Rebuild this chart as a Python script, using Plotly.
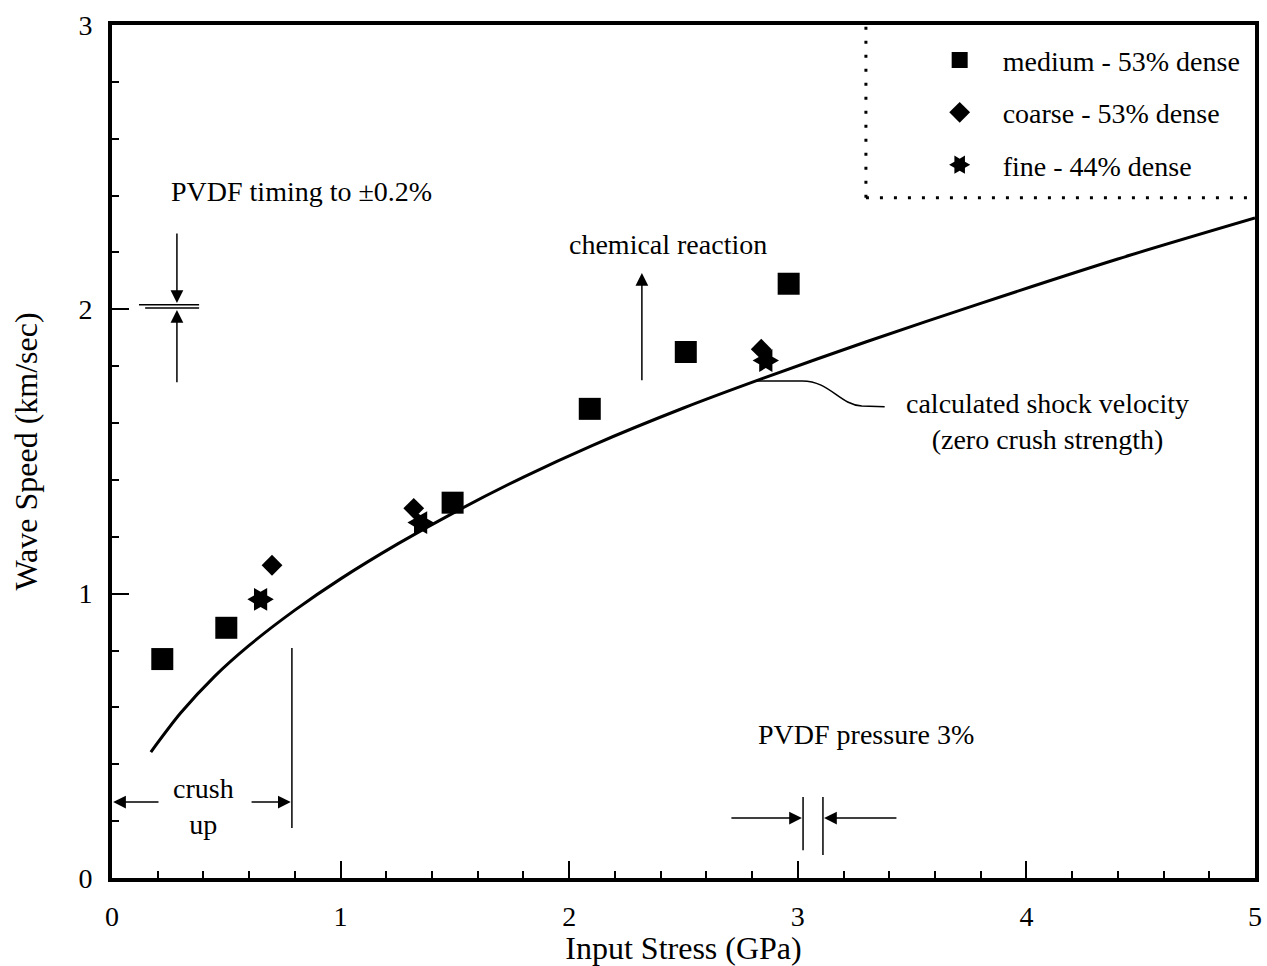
import plotly.graph_objects as go

# ---- data ----
medium_x = [0.22, 0.50, 1.49, 2.09, 2.51, 2.96]
medium_y = [0.77, 0.88, 1.32, 1.65, 1.85, 2.09]
coarse_x = [0.70, 1.32, 2.84]
coarse_y = [1.10, 1.30, 1.86]
fine_x = [0.65, 1.35, 2.86]
fine_y = [0.98, 1.25, 1.82]

curve_x = [0.17, 0.30, 0.45, 0.60, 0.80, 1.00, 1.25, 1.50, 1.80, 2.10, 2.50, 2.85, 3.30, 3.80, 4.40, 5.0]
curve_y = [0.443, 0.58, 0.71, 0.818, 0.942, 1.052, 1.175, 1.287, 1.41, 1.521, 1.653, 1.758, 1.886, 2.021, 2.177, 2.321]

legend_names = ["medium - 53% dense", "coarse - 53% dense", "fine - 44% dense"]
x_ticks = [0, 1, 2, 3, 4, 5]
y_ticks = [0, 1, 2, 3]

FONT = "Liberation Serif"
BLACK = "black"

fig = go.Figure()

fig.add_trace(go.Scatter(x=curve_x, y=curve_y, mode="lines", line=dict(color=BLACK, width=3, shape="spline", smoothing=0.8),
                         showlegend=False, hoverinfo="skip"))
fig.add_trace(go.Scatter(x=medium_x, y=medium_y, mode="markers", name=legend_names[0], legendgroup="a",
                         marker=dict(symbol="square", size=22, color=BLACK)))
fig.add_trace(go.Scatter(x=coarse_x, y=coarse_y, mode="markers", name=legend_names[1], legendgroup="b",
                         marker=dict(symbol="diamond", size=16, color=BLACK)))
fig.add_trace(go.Scatter(x=fine_x, y=fine_y, mode="markers", name=legend_names[2], legendgroup="c",
                         marker=dict(symbol="hexagram", size=20, color=BLACK, angle=90)))

ann_font = dict(family=FONT, size=28, color=BLACK)
annotations = [
    dict(x=0.83, y=2.413, text="PVDF timing to ±0.2%", showarrow=False, font=ann_font),
    dict(x=2.43, y=2.227, text="chemical reaction", showarrow=False, font=ann_font),
    dict(x=0.40, y=0.25, text="crush<br>up", showarrow=False, font=ann_font),
    dict(x=3.30, y=0.503, text="PVDF pressure 3%", showarrow=False, font=ann_font),
    dict(x=4.094, y=1.605, text="calculated shock velocity<br>(zero crush strength)", showarrow=False, font=ann_font),
]
arrow_common = dict(text="", showarrow=True, axref="x", ayref="y", arrowhead=2, arrowsize=1.7,
                    arrowwidth=1.5, arrowcolor=BLACK)
arrows = [
    (0.284, 2.022, 0.284, 2.272),   # timing, down
    (0.284, 1.998, 0.284, 1.738),   # timing, up
    (2.318, 2.128, 2.318, 1.745),   # chemical reaction
    (0.005, 0.267, 0.21, 0.267),    # crush left
    (0.782, 0.267, 0.604, 0.267),   # crush right
    (3.018, 0.211, 2.703, 0.211),   # pressure left
    (3.115, 0.211, 3.438, 0.211),   # pressure right
]
for hx, hy, tx, ty in arrows:
    annotations.append(dict(x=hx, y=hy, ax=tx, ay=ty, **arrow_common))

thin = dict(color=BLACK, width=1.5)
shapes = [
    dict(type="line", x0=0.118, x1=0.381, y0=2.016, y1=2.016, line=thin),
    dict(type="line", x0=0.145, x1=0.381, y0=2.005, y1=2.005, line=thin),
    dict(type="line", x0=0.787, x1=0.787, y0=0.176, y1=0.809, line=thin),
    dict(type="line", x0=3.023, x1=3.023, y0=0.098, y1=0.285, line=thin),
    dict(type="line", x0=3.110, x1=3.110, y0=0.081, y1=0.285, line=thin),
    dict(type="path", path="M 2.813 1.748 L 3.02 1.748 C 3.14 1.748, 3.18 1.665, 3.28 1.66 L 3.38 1.657",
         line=thin),
    # dotted legend box
    dict(type="line", x0=3.298, x1=3.298, y0=2.392, y1=3.0, line=dict(color=BLACK, width=3, dash="3px,11px")),
    dict(type="line", x0=3.298, x1=5.0, y0=2.392, y1=2.392, line=dict(color=BLACK, width=3, dash="3px,11px")),
]

axis_common = dict(
    showgrid=False, zeroline=False, showline=True, linecolor=BLACK, linewidth=4, mirror=True,
    ticks="inside", ticklen=17, tickwidth=2, tickcolor=BLACK, automargin=False,
    tickfont=dict(family=FONT, size=28, color=BLACK),
    minor=dict(ticks="inside", ticklen=7, tickwidth=2, tickcolor=BLACK, dtick=0.2, showgrid=False),
)

fig.update_layout(
    width=1267, height=966,
    margin=dict(l=112, r=12, t=25, b=88),
    paper_bgcolor="white", plot_bgcolor="white",
    font=dict(family=FONT, color=BLACK),
    xaxis=dict(range=[0, 5], tickvals=x_ticks, ticktext=[str(v) for v in x_ticks],
               title=dict(text="Input Stress (GPa)", font=dict(family=FONT, size=32, color=BLACK), standoff=16),
               ticklabelstandoff=10, **axis_common),
    yaxis=dict(range=[0, 3], tickvals=y_ticks, ticktext=[str(v) for v in y_ticks],
               title=dict(text="Wave Speed (km/sec)", font=dict(family=FONT, size=32, color=BLACK), standoff=32),
               ticklabelstandoff=10, **axis_common),
    legend=dict(x=0.704, y=0.988, xanchor="left", yanchor="top", bgcolor="rgba(0,0,0,0)",
                font=dict(family=FONT, size=28, color=BLACK), itemwidth=76, tracegroupgap=13,
                itemclick=False),
    annotations=annotations,
    shapes=shapes,
)

fig.write_html("out.html")
